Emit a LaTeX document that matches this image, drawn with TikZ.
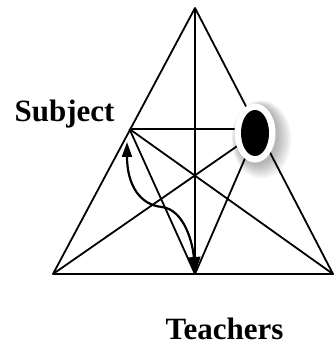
\documentclass[tikz,border=0pt]{standalone}
\usepackage{fontspec}
\setmainfont{Liberation Serif}
\usepackage{tikz}
\usetikzlibrary{shapes.geometric,arrows.meta,positioning}

\begin{document}
\begin{tikzpicture}[
    x=1pt, y=-1pt,
    edge/.style={line width=1.8pt},
    tag/.style={font=\fontsize{31}{31}\selectfont\bfseries, inner sep=0pt, text depth=0pt, anchor=base},
    spot/.style={ellipse, fill=black, minimum width=28pt, minimum height=46pt, inner sep=0pt},
    swing/.style={line width=2.2pt, {Triangle[length=15pt,width=10pt]}-{Triangle[length=17pt,width=13pt]}}
]
    \useasboundingbox (0,0) rectangle (334,347);

    % Corners
    \coordinate (apex) at (195,8);
    \coordinate (bl) at (53,274);
    \coordinate (br) at (333,274);
    \coordinate (bm) at (195,274);
    \coordinate (subj) at (129.5,129);
    \coordinate (rc) at (256,133);

    % Triangle
    \draw [edge, line join=round] (bl) -- (apex) -- (br) -- cycle;
    \draw [edge] (apex) -- (bm);

    % Cross lines
    \draw [edge] (subj) -- (subj -| rc);
    \draw [edge] (subj) -- (br);
    \draw [edge] (subj) -- (bm);
    \draw [edge] (bl) -- (rc);
    \draw [edge] (bm) -- (rc);

    % Glow and spot
    \foreach \k in {1,...,9}
        \fill [black, opacity=0.035] (257+0.5*\k,135+0.5*\k) ellipse ({20pt+1.1pt*\k} and {29pt+1.1pt*\k});
    \fill [white] (255,133) ellipse (20.5pt and 29.5pt);
    \node [spot] (dot) at (255,133) {};

    % Curved arrow
    \draw [swing] (127,142) .. controls (127,185) and (140,205) .. (162,207)
        .. controls (185,210) and (193,245) .. (bm);

    % Labels
    \node [tag] (subject) at (64.5,122) {Subject};
    \node [tag] (teachers) at (224.5,339) {Teachers};
\end{tikzpicture}
\end{document}
